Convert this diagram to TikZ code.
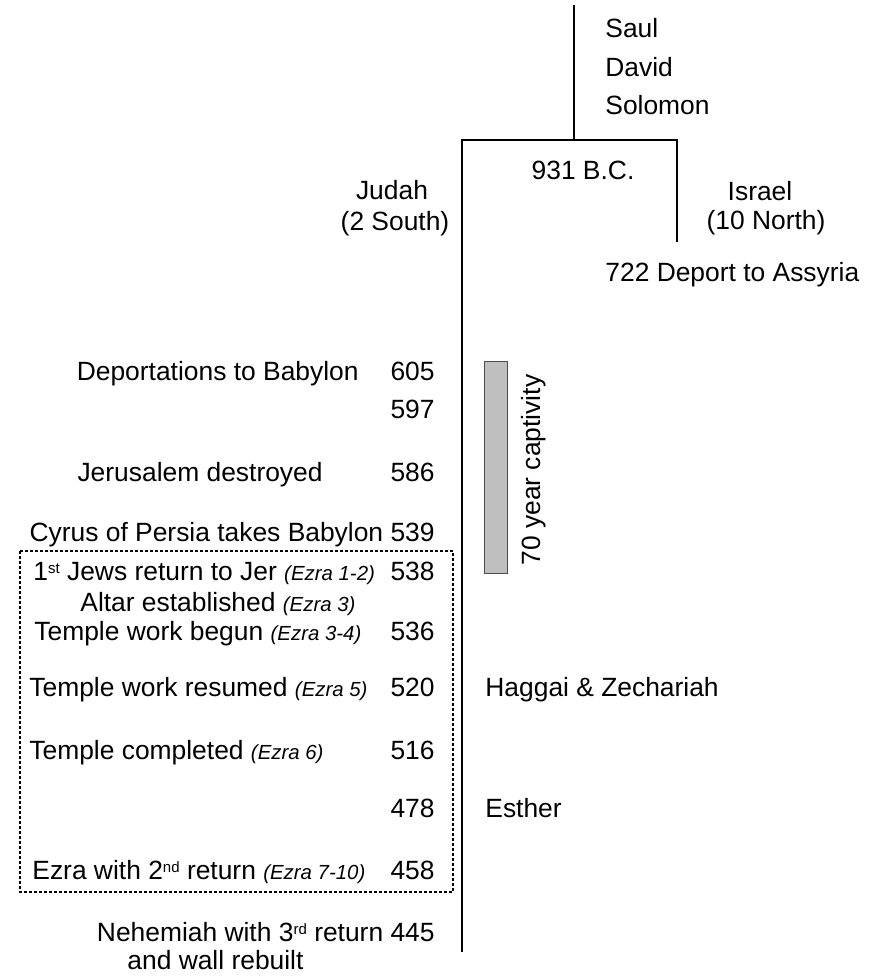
\documentclass[tikz,border=0pt]{standalone}
\usepackage{fontspec}
\setmainfont{Liberation Sans}
\usetikzlibrary{positioning}

\newcommand{\ezra}[1]{{\fontsize{10.2}{12}\selectfont\itshape(Ezra #1)}}
\newcommand{\ordsup}[1]{\raisebox{3.6pt}{\fontsize{7.5}{8}\selectfont #1}}
\tikzset{
  lbl/.style={inner sep=0pt, text height=9.4pt, text depth=0pt,
              font=\fontsize{13.2}{16}\selectfont},
  yr/.style={lbl, anchor=east},
  trunk/.style={line width=0.9pt},
  dotbox/.style={line width=0.7pt, dash pattern=on 1.5pt off 1pt},
  bar/.style={draw=black!70, line width=0.5pt, fill=black!25}
}

\begin{document}
\begin{tikzpicture}[x=0.5pt,y=-0.5pt]
  \useasboundingbox (0,0) rectangle (888,979);
  % the kingdom and its split
  \coordinate (top) at (574,5);
  \coordinate (split) at (574,140);
  \coordinate (jtop) at (462,140);
  \coordinate (itop) at (677,140);
  \coordinate (jend) at (462,952);
  \coordinate (iend) at (677,242);
  \draw[trunk] (top) -- (split);
  \draw[trunk] (jend) -- (jtop) -- (itop) -- (iend);
  \node[lbl,anchor=west] (saul) at (605,28) {Saul};
  \node[lbl,anchor=west] (david) at (605,67) {David};
  \node[lbl,anchor=west] (solomon) at (605,105) {Solomon};
  \node[lbl] (splitdate) at (583,170) {931 B.C.};
  \node[lbl] (israel) at (760,191) {Israel};
  \node[lbl] (israelsub) at (766,220) {(10 North)};
  \node[lbl] (judah) at (392,190) {Judah};
  \node[lbl] (judahsub) at (395,221) {(2 South)};
  \node[lbl,anchor=west] (assyria) at (605,272) {722 Deport to Assyria};
  % captivity and return
  \draw[dotbox] (20,551) rectangle (453,892);
  \draw[bar] (484,361) rectangle (507,573);
  \node[lbl,rotate=90] (captivity) at (531,470) {70 year captivity};
  \foreach \y/\v in {371/605,409/597,472/586,571/538,631/536,
                     687/520,750/516,808/478,870/458}
    {\node[yr] (y\v) at (435,\y) {\v};}
  \node[yr] (deport) at (359,371) {Deportations to Babylon};
  \node[yr] (jerusalem) at (323,472) {Jerusalem destroyed};
  \node[yr] (cyrus) at (435,532) {Cyrus of Persia takes Babylon 539};
  \node[lbl,anchor=west] (firstret) at (33,571) {1\ordsup{st} Jews return to Jer \ezra{1-2}};
  \node[lbl,anchor=west] (altar) at (80,602) {Altar established \ezra{3}};
  \node[lbl,anchor=west] (begun) at (34,631) {Temple work begun \ezra{3-4}};
  \node[lbl,anchor=west] (resumed) at (29,687) {Temple work resumed \ezra{5}};
  \node[lbl,anchor=west] (completed) at (29,750) {Temple completed \ezra{6}};
  \node[lbl,anchor=west] (secondret) at (32,870) {Ezra with 2\ordsup{nd} return \ezra{7-10}};
  \node[yr] (nehemiah) at (435,932) {Nehemiah with 3\ordsup{rd} return 445};
  \node[lbl,anchor=west] (wall) at (127,960) {and wall rebuilt};
  \node[lbl,anchor=west] (haggai) at (485,687) {Haggai \& Zechariah};
  \node[lbl,anchor=west] (esther) at (485,808) {Esther};
\end{tikzpicture}
\end{document}
